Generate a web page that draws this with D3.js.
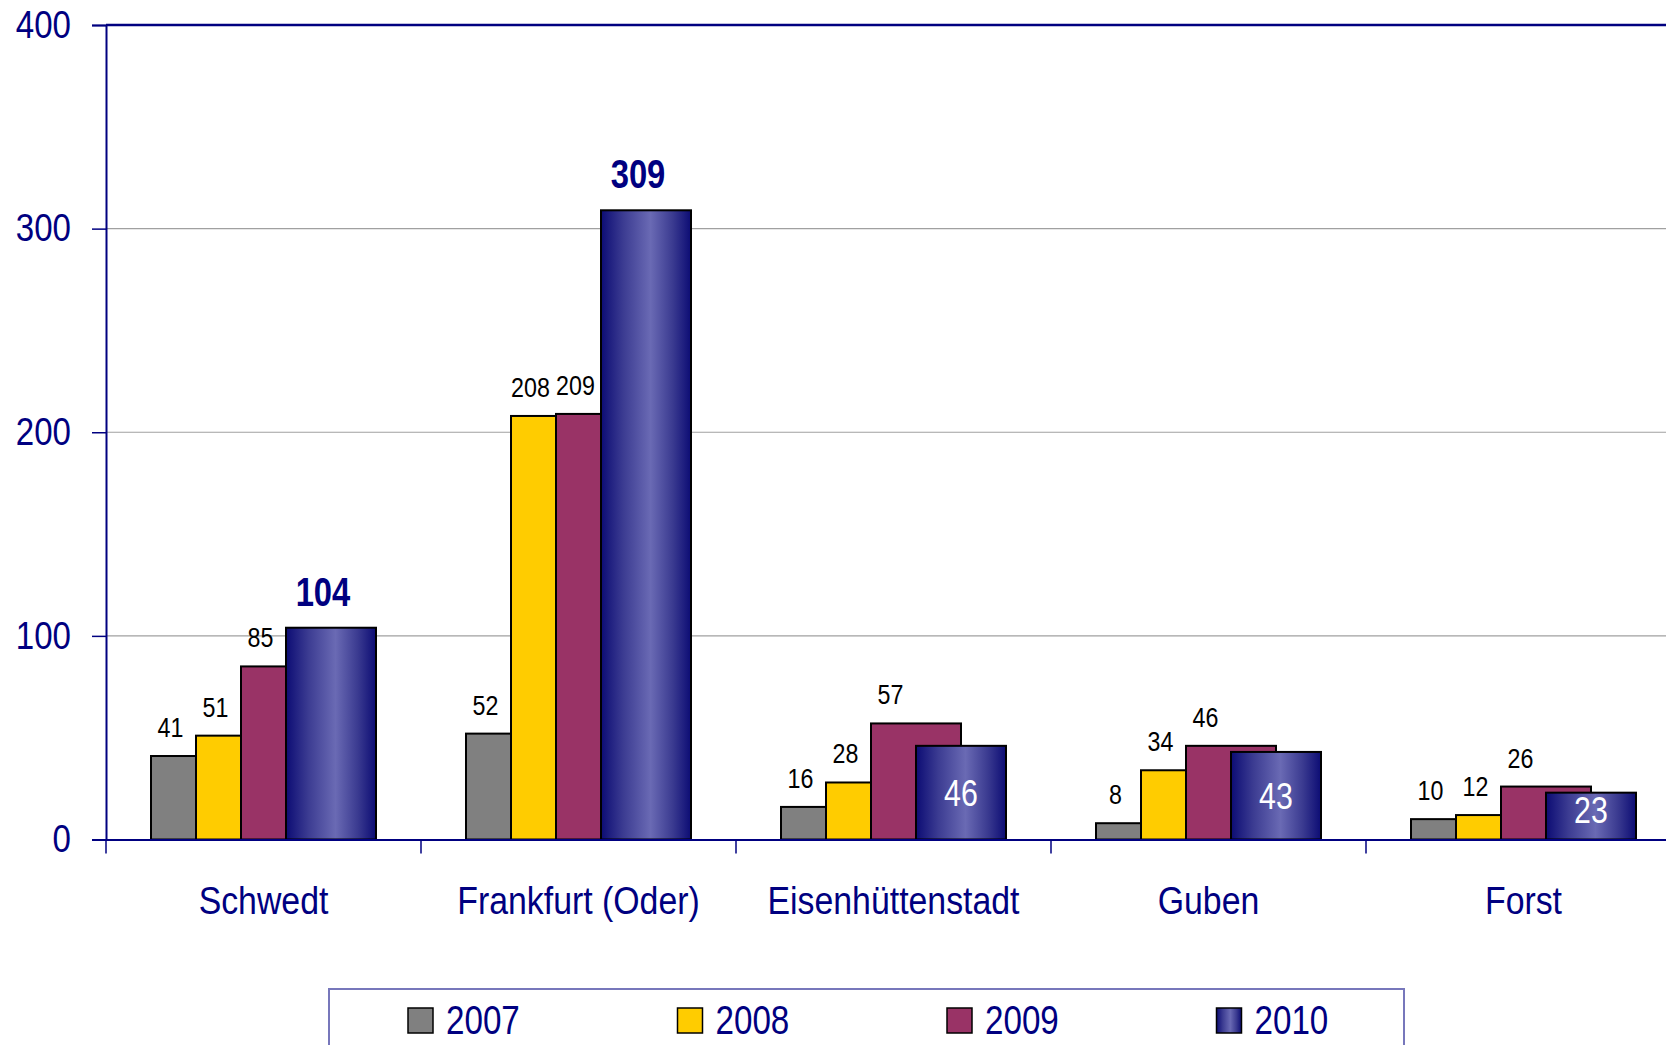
<!DOCTYPE html>
<html>
<head>
<meta charset="utf-8">
<script src="https://d3js.org/d3.v7.min.js"></script>
<style>
  body { margin: 0; background: #fff; }
  svg { display: block; }
  text { font-family: 'Liberation Sans', Arial, sans-serif; }
</style>
</head>
<body>
<div id="chart"></div>
<script>
const cities = ['Schwedt', 'Frankfurt (Oder)', 'Eisenhüttenstadt', 'Guben', 'Forst']
const years = ['2007', '2008', '2009', '2010']
const v2007 = [41, 52, 16, 8, 10]
const v2008 = [51, 208, 28, 34, 12]
const v2009 = [85, 209, 57, 46, 26]
const v2010 = [104, 309, 46, 43, 23]
const yTicks = [0, 100, 200, 300, 400]

const series = [v2007, v2008, v2009, v2010]
const fills = ['#808080', '#ffcc00', '#993366', 'url(#grad2010)']
const navy = '#000080'

const W = 1666, H = 1045
const m = {t: 25, l: 106, b: 1045 - 839.5}

// squeeze Liberation Sans horizontally to look like a narrow face
function narrow(sel, k) {
  sel.each(function() {
    const t = d3.select(this)
    const x0 = +t.attr('x') || 0
    t.attr('x', x0 / k).attr('transform', 'scale(' + k + ',1)')
  })
}

const svg = d3.select('#chart').append('svg')
  .attr('width', W)
  .attr('height', H)

const defs = svg.append('defs')
const grad = defs.append('linearGradient').attr('id', 'grad2010')
  .attr('x1', '0%').attr('x2', '100%').attr('y1', '0%').attr('y2', '0%')
grad.append('stop').attr('offset', '0%').attr('stop-color', '#0c0c74')
grad.append('stop').attr('offset', '25%').attr('stop-color', '#3c3c92')
grad.append('stop').attr('offset', '55%').attr('stop-color', '#6a6ab4')
grad.append('stop').attr('offset', '80%').attr('stop-color', '#3a3a90')
grad.append('stop').attr('offset', '100%').attr('stop-color', '#0c0c74')

const x = d3.scaleBand().domain(cities).range([m.l, m.l + 5 * 315])
const y = d3.scaleLinear().domain([0, 400]).range([H - m.b, m.t])
const u = x.bandwidth() / 7

// gridlines
svg.append('g').selectAll('line')
  .data(yTicks.filter(d => d > 0 && d < 400))
  .enter().append('line')
  .attr('x1', m.l).attr('x2', W)
  .attr('y1', d => y(d)).attr('y2', d => y(d))
  .style('stroke', '#a0a0a0').style('stroke-width', 1.2)

// bars: 2007/2008 narrow, 2009/2010 double width and overlapping
const offs = [1, 2, 3, 4]
const widths = [1, 1, 2, 2]
series.forEach((vals, s) => {
  svg.append('g').selectAll('rect')
    .data(vals)
    .enter().append('rect')
    .attr('x', (d, i) => x(cities[i]) + offs[s] * u)
    .attr('width', widths[s] * u)
    .attr('y', d => y(d))
    .attr('height', d => y(0) - y(d))
    .style('fill', fills[s])
    .style('stroke', '#000')
    .style('stroke-width', 2)
})

// data labels 2007-2009
series.slice(0, 3).forEach((vals, s) => {
  svg.append('g').selectAll('text')
    .data(vals)
    .enter().append('text')
    .attr('x', (d, i) => x(cities[i]) + offs[s] * u + u / 2 - 3)
    .attr('y', d => y(d) - 19)
    .attr('text-anchor', 'middle')
    .style('font-size', '28px')
    .style('fill', '#000')
    .text(d => d)
    .call(narrow, 0.83)
})

// data labels 2010
svg.append('g').selectAll('text')
  .data(v2010)
  .enter().append('text')
  .attr('x', (d, i) => x(cities[i]) + 4 * u + u - (d > 60 ? 8 : 0))
  .attr('y', d => d > 60 ? y(d) - 22 : Math.min((y(d) + y(0)) / 2 + 13, y(0) - 16))
  .attr('text-anchor', 'middle')
  .style('font-size', d => d > 60 ? '40px' : '37px')
  .style('font-weight', d => d > 60 ? 'bold' : 'normal')
  .style('fill', d => d > 60 ? navy : '#fff')
  .text(d => d)
  .call(narrow, 0.82)

// plot border top
svg.append('line')
  .attr('x1', m.l).attr('x2', W).attr('y1', y(400)).attr('y2', y(400))
  .style('stroke', navy).style('stroke-width', 2.5)

// y axis
const yAxis = svg.append('g')
  .attr('transform', 'translate(' + m.l + ',0)')
  .call(d3.axisLeft(y).tickValues(yTicks).tickSize(14).tickPadding(21))
yAxis.select('.domain').style('stroke', navy).style('stroke-width', 2)
yAxis.selectAll('.tick line').style('stroke', navy).style('stroke-width', 1.5)
yAxis.selectAll('.tick text')
  .style('font-size', '38px').style('fill', navy)
  .style('font-family', "'Liberation Sans', Arial, sans-serif")
  .call(narrow, 0.87)

// x axis
const xAxis = svg.append('g')
  .attr('transform', 'translate(0,' + y(0) + ')')
  .call(d3.axisBottom(x).tickSize(0).tickPadding(0))
xAxis.select('.domain').style('stroke', navy).style('stroke-width', 2)
xAxis.selectAll('.tick text')
  .attr('y', 75).attr('dy', 0)
  .style('font-size', '38px').style('fill', navy)
  .style('font-family', "'Liberation Sans', Arial, sans-serif")
  .call(narrow, 0.89)

// category separators
svg.append('g').selectAll('line')
  .data(cities)
  .enter().append('line')
  .attr('x1', d => x(d)).attr('x2', d => x(d))
  .attr('y1', y(0)).attr('y2', y(0) + 14)
  .style('stroke', navy).style('stroke-width', 1.5)

// legend
const lg = svg.append('g')
lg.append('rect')
  .attr('x', 329).attr('y', 989).attr('width', 1075).attr('height', 80)
  .style('fill', '#fff').style('stroke', '#7777bb').style('stroke-width', 2)
const lx = d3.scalePoint().domain(years).range([408, 1216.5])
const item = lg.selectAll('g.item')
  .data(years)
  .enter().append('g')
  .attr('class', 'item')
  .attr('transform', d => 'translate(' + lx(d) + ',1008)')
item.append('rect')
  .attr('width', 25).attr('height', 25)
  .style('fill', (d, i) => fills[i])
  .style('stroke', '#000').style('stroke-width', 1.5)
item.append('text')
  .attr('x', 38).attr('y', 26)
  .style('font-size', '40px').style('fill', navy)
  .text(d => d)
  .call(narrow, 0.83)
</script>
</body>
</html>
